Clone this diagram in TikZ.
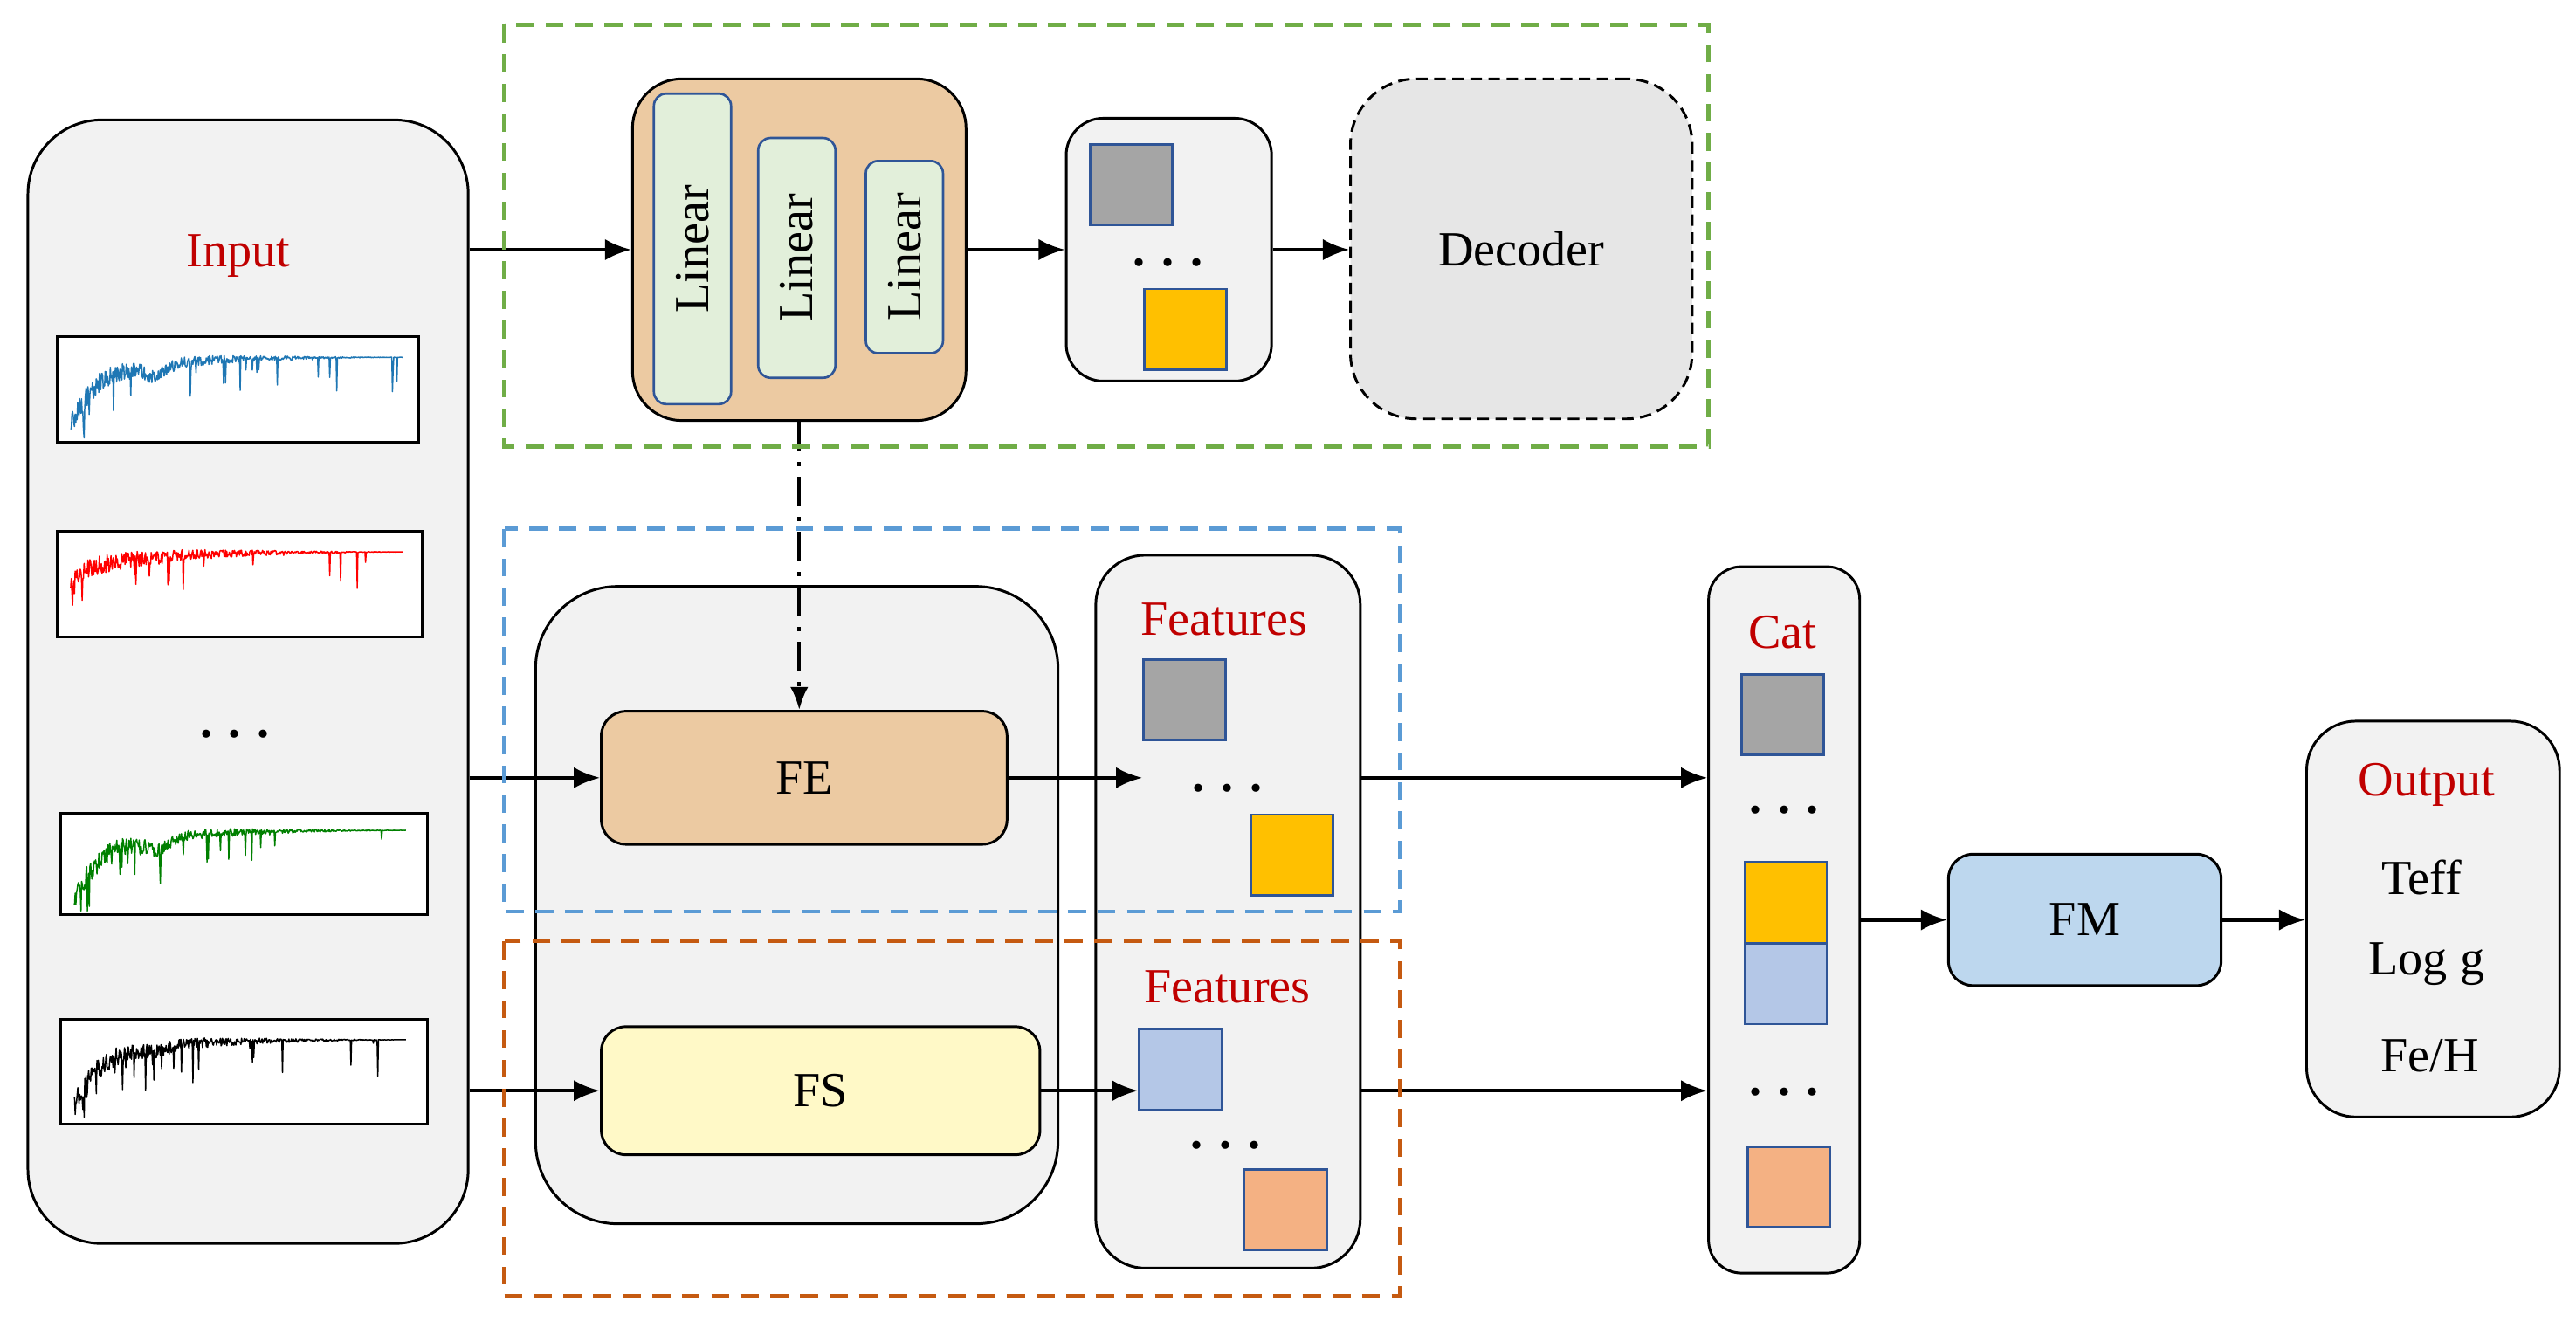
\documentclass[tikz,border=0pt]{standalone}
\usepackage{fontspec}
\setmainfont{Liberation Serif}
\usetikzlibrary{arrows.meta}
\definecolor{boxgray}{HTML}{F2F2F2}
\definecolor{decgray}{HTML}{E6E6E6}
\definecolor{fetan}{HTML}{ECCAA2}
\definecolor{lingreen}{HTML}{E2EFDA}
\definecolor{edgeblue}{HTML}{2F5597}
\definecolor{featgray}{HTML}{A5A5A5}
\definecolor{featyellow}{HTML}{FFC000}
\definecolor{featblue}{HTML}{B4C7E7}
\definecolor{featorange}{HTML}{F4B183}
\definecolor{fsyellow}{HTML}{FFF9C7}
\definecolor{fmblue}{HTML}{BDD7EE}
\definecolor{headred}{HTML}{C00000}
\definecolor{framegreen}{HTML}{70AD47}
\definecolor{frameblue}{HTML}{5B9BD5}
\definecolor{frameorange}{HTML}{C55A11}
\definecolor{specblue}{HTML}{1F77B4}
\definecolor{specgreen}{HTML}{008000}
\tikzset{
  panel/.style={draw, line width=0.9pt, fill=boxgray, rounded corners=#1, inner sep=0pt},
  panel/.default=0.6cm,
  blockbox/.style={draw, line width=0.9pt, rounded corners=0.3cm, inner sep=0pt},
  linbox/.style={draw=edgeblue, line width=0.8pt, fill=lingreen, rounded corners=0.15cm,
    rotate=90, minimum height=0.94cm, inner sep=0pt},
  feat/.style={draw=edgeblue, line width=0.8pt, fill=#1, minimum width=1cm,
    minimum height=0.98cm, inner sep=0pt},
  specbox/.style={draw, fill=white, line width=0.9pt, minimum height=1.28cm, inner sep=0pt},
  headtext/.style={text=headred},
  arr/.style={-{Latex[length=0.32cm,width=0.26cm]}, line width=1.3pt},
  dashframe/.style={draw=#1, line width=1.4pt, dash pattern=on 0.22cm off 0.14cm}
}
% noisy spectrum in a panel: node, colour, seed, rise, dip
\newcommand{\spectrum}[5]{%
  \pgfmathsetseed{#3}
  \begin{scope}[shift={(#1.south west)}]
    \draw[#2, line width=0.45pt, line join=round]
      plot[domain=0.04:0.96, samples=520]
      (\x*4.4, {1.28*max(0.05, 0.82 - #4*exp(-15*(\x-0.04)) - 0.1*exp(-4*(\x-0.04))
        - #5/(1+((\x-0.27)/0.04)^2)
        + 0.11*rand*(1.05-\x)*(1.05-\x) - 0.35*rnd*(rnd>0.93+0.05*\x))});
  \end{scope}}
\begin{document}
\begin{tikzpicture}[font=\fontsize{17}{20}\selectfont]
\useasboundingbox (0,0) rectangle (31.36,-16.08);

% input column
\node[panel=0.9cm, minimum width=5.36cm, minimum height=13.68cm] (input) at (3.02,-8.30) {};
\node[headtext] (inputlabel) at (2.90,-3.12) {Input};
\node[specbox, minimum width=4.40cm] (specA) at (2.90,-4.74) {};
\node[specbox, minimum width=4.44cm] (specB) at (2.92,-7.11) {};
\node (inputdots) at (2.86,-8.94) {\textbf{. . .}};
\node[specbox, minimum width=4.46cm, minimum height=1.24cm] (specC) at (2.97,-10.52) {};
\node[specbox, minimum width=4.46cm] (specD) at (2.97,-13.05) {};
\spectrum{specA}{specblue}{11}{0.55}{0.12}
\spectrum{specB}{red}{23}{0.2}{0.02}
\spectrum{specC}{specgreen}{37}{0.6}{0.14}
\spectrum{specD}{black}{41}{0.55}{0.06}

% encoder branch
\node[panel=0.6cm, fill=fetan, minimum width=4.06cm, minimum height=4.16cm] (enc) at (9.73,-3.04) {};
\node[linbox, minimum width=3.78cm] (linA) at (8.43,-3.03) {Linear};
\node[linbox, minimum width=2.92cm] (linB) at (9.70,-3.14) {Linear};
\node[linbox, minimum width=2.34cm] (linC) at (11.01,-3.13) {Linear};
\node[panel=0.45cm, minimum width=2.50cm, minimum height=3.20cm] (latent) at (14.23,-3.04) {};
\node[feat=featgray] (latA) at (13.77,-2.25) {};
\node (latdots) at (14.22,-3.20) {\textbf{. . .}};
\node[feat=featyellow] (latB) at (14.43,-4.01) {};
\node[panel=0.8cm, fill=decgray, dash pattern=on 0.14cm off 0.08cm,
  minimum width=4.16cm, minimum height=4.14cm] (decoder) at (18.52,-3.03) {Decoder};

% FE / FS branch
\node[panel=1cm, minimum width=6.36cm, minimum height=7.76cm] (branch) at (9.70,-11.02) {};
\node[blockbox, fill=fetan, minimum width=4.94cm, minimum height=1.62cm] (fe) at (9.79,-9.47) {FE};
\node[blockbox, fill=fsyellow, minimum width=5.34cm, minimum height=1.56cm] (fs) at (9.99,-13.28) {FS};

% features
\node[panel=0.6cm, minimum width=3.22cm, minimum height=8.68cm] (featbox) at (14.95,-11.10) {};
\node[headtext] (featlabelA) at (14.90,-7.54) {Features};
\node[feat=featgray] (featA) at (14.42,-8.52) {};
\node (featdotsA) at (14.94,-9.60) {\textbf{. . .}};
\node[feat=featyellow] (featB) at (15.73,-10.41) {};
\node[headtext] (featlabelB) at (14.94,-12.02) {Features};
\node[feat=featblue] (featC) at (14.37,-13.02) {};
\node (featdotsB) at (14.92,-13.94) {\textbf{. . .}};
\node[feat=featorange] (featD) at (15.65,-14.73) {};

% concatenation
\node[panel=0.4cm, minimum width=1.84cm, minimum height=8.60cm] (catbox) at (21.72,-11.20) {};
\node[headtext] (catlabel) at (21.70,-7.70) {Cat};
\node[feat=featgray] (catA) at (21.70,-8.70) {};
\node (catdotsA) at (21.72,-9.86) {\textbf{. . .}};
\node[feat=featyellow] (catB) at (21.74,-10.99) {};
\node[feat=featblue] (catC) at (21.74,-11.98) {};
\node (catdotsB) at (21.72,-13.30) {\textbf{. . .}};
\node[feat=featorange] (catD) at (21.78,-14.45) {};

% fusion and output
\node[blockbox, fill=fmblue, minimum width=3.32cm, minimum height=1.6cm] (fm) at (25.38,-11.20) {FM};
\node[panel=0.6cm, minimum width=3.08cm, minimum height=4.82cm] (outbox) at (29.62,-11.19) {};
\node[headtext] (outlabel) at (29.54,-9.56) {Output};
\node (teff) at (29.48,-10.68) {Teff};
\node (logg) at (29.54,-11.74) {Log g};
\node (feh) at (29.58,-12.86) {Fe/H};

% connectors
\draw[arr] (input.east |- enc.west) -- (enc.west);
\draw[arr] (enc.east |- latent.west) -- (latent.west);
\draw[arr] (latent.east) -- (latent.east -| decoder.west);
\draw[-{Latex[length=0.28cm,width=0.22cm]}, line width=1.1pt,
  dash pattern=on 0.36cm off 0.13cm on 0.05cm off 0.13cm] (enc.south) -- (enc.south |- fe.north);
\draw[arr] (input.east |- fe.west) -- (fe.west);
\draw[arr] (input.east |- fs.west) -- (fs.west);
\draw[arr] (fe.east) -- (fe.east -| featA.west);
\draw[arr] (fs.east) -- (fs.east -| featC.west);
\draw[arr] (featbox.east |- fe) -- (catbox.west |- fe);
\draw[arr] (featbox.east |- fs) -- (catbox.west |- fs);
\draw[arr] (catbox.east |- fm) -- (fm.west);
\draw[arr] (fm.east) -- (fm.east -| outbox.west);

% dashed frames
\draw[dashframe=framegreen] (6.14,-0.30) rectangle (20.80,-5.44);
\draw[dashframe=frameblue] (6.14,-6.44) rectangle (17.04,-11.10);
\draw[dashframe=frameorange] (6.14,-11.46) rectangle (17.04,-15.78);
\end{tikzpicture}
\end{document}
